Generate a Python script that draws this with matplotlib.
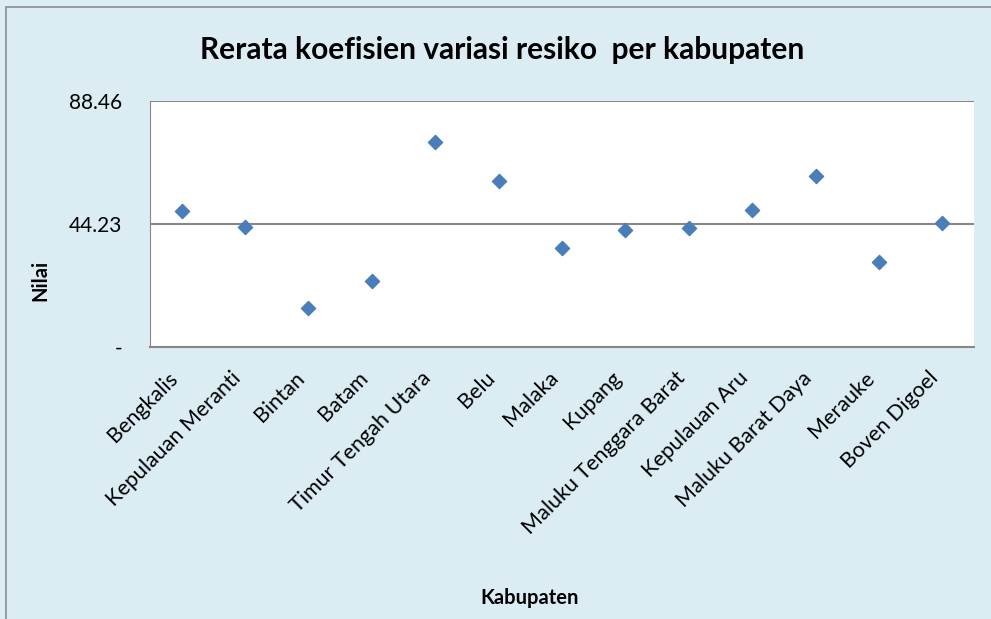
import matplotlib.pyplot as plt
import matplotlib.patches as mpatches
import numpy as np

kabupaten = ["Bengkalis", "Kepulauan Meranti", "Bintan", "Batam", "Timur Tengah Utara",
             "Belu", "Malaka", "Kupang", "Maluku Tenggara Barat", "Kepulauan Aru",
             "Maluku Barat Daya", "Merauke", "Boven Digoel"]
nilai = [48.9, 43.2, 14.0, 23.7, 73.7, 59.7, 35.6, 42.1, 42.8, 49.3, 61.5, 30.6, 44.6]
yticks = [0, 44.23, 88.46]
ylabels = ["-", "44.23", "88.46"]

bg = "#dbedf3"
plt.rcParams['font.family'] = ['Lato', 'DejaVu Sans']

fig = plt.figure(figsize=(9.91, 6.19), dpi=100)
fig.patch.set_facecolor(bg)
# outer chart border
fig.patches.append(mpatches.Rectangle((6 / 991, -0.1), 1.2, 1 - 7 / 619 + 0.1,
                                      transform=fig.transFigure, fill=False,
                                      edgecolor="#8c8c8c", linewidth=1.2))

ax = fig.add_axes([150 / 991, 1 - 347 / 619, 824 / 991, 246 / 619])
ax.set_facecolor("white")

x = np.arange(len(kabupaten))
ax.scatter(x, nilai, marker="D", s=52, color="#4a7ebb", edgecolor="#4a7ebb", zorder=3)

ax.set_xlim(-0.5, len(kabupaten) - 0.5)
ax.set_ylim(0, 88.46)
ax.set_yticks(yticks)
ax.set_yticklabels(ylabels, fontsize=15)
ax.set_xticks(x)
ax.set_xticklabels(kabupaten, rotation=45, ha="right", fontsize=15.5)
ax.tick_params(axis="y", length=0, pad=20)
ax.tick_params(axis="x", length=0, pad=15)

for yy in yticks[1:]:
    ax.axhline(yy, color="#878787", linewidth=1.5, zorder=1)

for s in ["top", "right"]:
    ax.spines[s].set_visible(False)
ax.spines["left"].set_color("#878787")
ax.spines["bottom"].set_color("#878787")
ax.spines["bottom"].set_linewidth(1.5)

fig.text(0.5065, 1 - 50 / 619, "Rerata koefisien variasi resiko  per kabupaten",
         ha="center", va="center", fontsize=21.5, fontweight="bold")
fig.text(40 / 991, 1 - 280 / 619, "Nilai", rotation=90, ha="center", va="center",
         fontsize=14.5, fontweight="bold")
fig.text(530 / 991, 1 - 598 / 619, "Kabupaten", ha="center", va="center",
         fontsize=14.5, fontweight="bold")

fig.savefig("out.png", dpi=100, facecolor=bg)
